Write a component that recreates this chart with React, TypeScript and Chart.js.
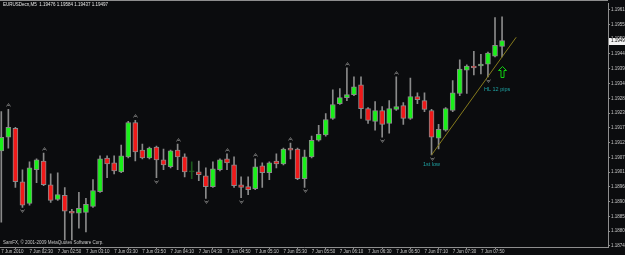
import React, { useEffect, useRef } from "react";
import { Chart, registerables } from "chart.js";
Chart.register(...registerables);

// ---- data (EURUSDecn, M5, 7 Jun 2010 02:10 .. 08:05) ----
const opens = [
  1.19093, 1.19143, 1.19176, 1.1898, 1.18901, 1.19024, 1.19056, 1.18969, 1.18915, 1.1893,
  1.18872, 1.18865, 1.18868, 1.1889, 1.18944, 1.19067, 1.19049, 1.19016, 1.19071, 1.19197,
  1.19096, 1.19067, 1.19107, 1.1906, 1.19035, 1.19096, 1.19071, 1.19016, 1.19016, 1.19002,
  1.18962, 1.19024, 1.19064, 1.19042, 1.18969, 1.18962, 1.18955, 1.19038, 1.19013, 1.19056,
  1.19045, 1.19103, 1.191, 1.18991, 1.19071, 1.19132, 1.19151, 1.19212, 1.19266, 1.19288,
  1.19299, 1.19335, 1.19248, 1.19201, 1.19241, 1.19194, 1.19245, 1.19259, 1.19212, 1.19292,
  1.19277, 1.19241, 1.1914, 1.19169, 1.19241, 1.19303, 1.19389, 1.19404, 1.19404, 1.19411,
  1.1944, 1.19476,
];
const highs = [
  1.19237, 1.19245, 1.19179, 1.19024, 1.19053, 1.19064, 1.19085, 1.19009, 1.19013, 1.18959,
  1.18879, 1.18941, 1.18919, 1.18988, 1.19075, 1.19075, 1.19075, 1.19114, 1.19201, 1.19205,
  1.19118, 1.19107, 1.19111, 1.191, 1.19096, 1.19118, 1.19082, 1.19053, 1.19056, 1.19031,
  1.19053, 1.19064, 1.19082, 1.19071, 1.18998, 1.18998, 1.19064, 1.19049, 1.19053, 1.19082,
  1.19103, 1.19122, 1.19103, 1.19096, 1.19147, 1.19187, 1.1923, 1.19317, 1.19321, 1.19397,
  1.19364, 1.19364, 1.19252, 1.19274, 1.19255, 1.19277, 1.19364, 1.1927, 1.1936, 1.19306,
  1.19306, 1.19245, 1.1919, 1.19252, 1.1935, 1.19426, 1.19408, 1.19458, 1.19447, 1.19455,
  1.19581, 1.19584,
];
const lows = [
  1.18832, 1.19103, 1.18959, 1.18886, 1.18894, 1.18977, 1.18966, 1.18904, 1.18912, 1.18767,
  1.18767, 1.1881, 1.18796, 1.18886, 1.18941, 1.18995, 1.19009, 1.19013, 1.19067, 1.19056,
  1.19064, 1.19064, 1.18995, 1.19024, 1.19031, 1.19024, 1.18998, 1.18991, 1.18984, 1.18919,
  1.18959, 1.1902, 1.19024, 1.18959, 1.18922, 1.18933, 1.18951, 1.18959, 1.18988, 1.19031,
  1.19042, 1.19064, 1.18988, 1.18959, 1.19067, 1.19129, 1.19147, 1.19208, 1.19263, 1.19277,
  1.19295, 1.19212, 1.19194, 1.19169, 1.19143, 1.19158, 1.19241, 1.1919, 1.19208, 1.19266,
  1.19237, 1.19078, 1.191, 1.19165, 1.19237, 1.19295, 1.19303, 1.19371, 1.19375, 1.19364,
  1.19437, 1.19437,
];
const closes = [
  1.19143, 1.19179, 1.1898, 1.18894, 1.19031, 1.1906, 1.18969, 1.18912, 1.18933, 1.18872,
  1.18865, 1.18883, 1.18897, 1.18948, 1.19064, 1.19045, 1.1902, 1.19075, 1.19197, 1.19089,
  1.19067, 1.19103, 1.1906, 1.19042, 1.19093, 1.19071, 1.19016, 1.19016, 1.19006, 1.18962,
  1.19027, 1.1906, 1.19049, 1.18966, 1.18959, 1.18951, 1.19035, 1.19013, 1.19049, 1.19045,
  1.191, 1.19096, 1.18991, 1.19071, 1.19132, 1.19154, 1.19208, 1.19263, 1.19288, 1.19299,
  1.19328, 1.19248, 1.19205, 1.19241, 1.1919, 1.19248, 1.19255, 1.19212, 1.19292, 1.19281,
  1.19245, 1.19143, 1.19172, 1.19248, 1.19306, 1.19393, 1.19404, 1.19397, 1.19411, 1.19451,
  1.1948, 1.19497,
];

// fractal markers (bar indices)
const upFractals = [1, 6, 19, 25, 32, 36, 41, 49, 56];
const downFractals = [3, 22, 29, 34, 43, 54, 61, 69];

// trend line through the "1st low" and the higher low
const trendX = [61, 73];
const trendY = [1.19078, 1.19509];

// x-axis tick labels (every 4 bars = 20 minutes)
const xTickBars = [0, 4, 8, 12, 16, 20, 24, 28, 32, 36, 40, 44, 48, 52, 56, 60, 64, 68];
const xTickLabels = [
  "7 Jun 2010", "7 Jun 02:30", "7 Jun 02:50", "7 Jun 03:10", "7 Jun 03:30", "7 Jun 03:50",
  "7 Jun 04:10", "7 Jun 04:30", "7 Jun 04:50", "7 Jun 05:10", "7 Jun 05:30", "7 Jun 05:50",
  "7 Jun 06:10", "7 Jun 06:30", "7 Jun 06:50", "7 Jun 07:10", "7 Jun 07:30", "7 Jun 07:50",
];

// y-axis ticks
const yTickValues = [
  1.1961, 1.19556, 1.19502, 1.19448, 1.19394, 1.1934, 1.19285, 1.19231, 1.19177, 1.19123,
  1.19069, 1.19015, 1.18961, 1.18907, 1.18853, 1.18799, 1.18745,
];
const yTickLabels = [
  "1.19610", "1.19555", "1.19500", "1.19445", "1.19390", "1.19340", "1.19285", "1.19230",
  "1.19175", "1.19125", "1.19070", "1.19015", "1.18960", "1.18905", "1.18850", "1.18800",
  "1.18745",
];

const titleText = "EURUSDecn,M5  1.19476 1.19584 1.19437 1.19497";
const copyrightText = "SamFX, \u00A9 2001-2009 MetaQuotes Software Corp.";
const firstLowText = "1st low";
const hlText = "HL 12 pips";
const currentPriceLabel = "1.19497";

// ---- styling ----
const BG = "#0b0c0e";
const AXIS = "#8e8e8e";
const TXT = "#c8c8c8";
const WICK = "#8a8a8a";
const UP = "#19f019";
const DOWN = "#f01919";
const DOJI = "#1d5a1d";
const TREND = "#857a1c";
const NOTE = "#1fa3a3";
const FRACTAL = "#6c6c6c";
const FONT = "'Liberation Sans', Arial, sans-serif";

const XMIN = -0.184;
const XMAX = 86.02;
const YMIN = 1.18741;
const YMAX = 1.19632;

export default function App() {
  const ref = useRef<HTMLCanvasElement>(null);

  useEffect(() => {
    document.body.style.margin = "0";
    document.body.style.background = BG;
    const canvas = ref.current!;
    const idx = opens.map((_, i) => i);
    const isDoji = (i: number) => opens[i] === closes[i];

    const overlay = {
      id: "overlay",
      beforeDraw(chart: any) {
        const c = chart.ctx;
        c.save();
        c.fillStyle = BG;
        c.fillRect(0, 0, chart.width, chart.height);
        c.restore();
      },
      afterDatasetsDraw(chart: any) {
        const c = chart.ctx;
        const xs = chart.scales.x;
        const ys = chart.scales.y;
        c.save();
        // fractals
        c.strokeStyle = FRACTAL;
        c.lineWidth = 1;
        upFractals.forEach((i) => {
          const x = Math.round(xs.getPixelForValue(i)) + 0.5;
          const y = Math.round(ys.getPixelForValue(highs[i])) - 4;
          c.beginPath();
          c.moveTo(x - 2, y + 1.5);
          c.lineTo(x, y - 1.5);
          c.lineTo(x + 2, y + 1.5);
          c.moveTo(x - 1, y + 0.5);
          c.lineTo(x + 1, y + 0.5);
          c.stroke();
        });
        downFractals.forEach((i) => {
          const x = Math.round(xs.getPixelForValue(i)) + 0.5;
          const y = Math.round(ys.getPixelForValue(lows[i])) + 4;
          c.beginPath();
          c.moveTo(x - 2, y - 1.5);
          c.lineTo(x, y + 1.5);
          c.lineTo(x + 2, y - 1.5);
          c.moveTo(x - 1, y - 0.5);
          c.lineTo(x + 1, y - 0.5);
          c.stroke();
        });
        // notes
        c.fillStyle = NOTE;
        c.font = `5.5px ${FONT}`;
        c.textBaseline = "middle";
        c.textAlign = "center";
        c.fillText(firstLowText, xs.getPixelForValue(61), ys.getPixelForValue(lows[61]) + 10);
        c.textAlign = "left";
        c.fillText(hlText, xs.getPixelForValue(69) - 4, ys.getPixelForValue(lows[69]) + 13);
        // green outlined up arrow
        const ax = Math.round(xs.getPixelForValue(71)) + 0.5;
        const top = Math.round(ys.getPixelForValue(1.19404)) + 0.5;
        const bot = Math.round(ys.getPixelForValue(1.19364)) + 0.5;
        c.strokeStyle = "#10d010";
        c.beginPath();
        c.moveTo(ax, top);
        c.lineTo(ax + 4, top + 4);
        c.lineTo(ax + 1.5, top + 4);
        c.lineTo(ax + 1.5, bot);
        c.lineTo(ax - 1.5, bot);
        c.lineTo(ax - 1.5, top + 4);
        c.lineTo(ax - 4, top + 4);
        c.closePath();
        c.stroke();
        c.restore();
      },
      afterDraw(chart: any) {
        const c = chart.ctx;
        const a = chart.chartArea;
        const ys = chart.scales.y;
        c.save();
        c.strokeStyle = AXIS;
        c.lineWidth = 1;
        c.beginPath();
        c.moveTo(0, 0.5);
        c.lineTo(a.right, 0.5);
        c.stroke();
        c.font = `4.5px ${FONT}`;
        c.textBaseline = "middle";
        c.textAlign = "left";
        c.fillStyle = "#e6e6e6";
        c.fillText(titleText, 3, 5);
        c.fillStyle = TXT;
        c.fillText(copyrightText, 3, a.bottom - 4);
        // current price label
        const py = ys.getPixelForValue(closes[closes.length - 1]);
        c.fillStyle = "#f2f2f2";
        c.fillRect(a.right + 1, Math.round(py) - 3, chart.width - a.right - 1, 7);
        c.fillStyle = "#000";
        c.fillText(currentPriceLabel, a.right + 3, py + 0.5);
        c.restore();
      },
    };

    const chart = new Chart(canvas, {
      type: "bar",
      data: {
        datasets: [
          {
            type: "line",
            data: trendX.map((x, k) => ({ x, y: trendY[k] })),
            borderColor: TREND,
            borderWidth: 1,
            pointRadius: 0,
            order: 0,
          } as any,
          {
            type: "bar",
            data: idx.map((i) => ({ x: i, y: [opens[i], closes[i]] })),
            backgroundColor: idx.map((i) => (isDoji(i) ? DOJI : closes[i] > opens[i] ? UP : DOWN)),
            borderColor: idx.map((i) => (isDoji(i) ? DOJI : WICK)),
            borderWidth: 1,
            borderSkipped: false,
            barThickness: 5,
            minBarLength: 1,
            grouped: false,
            order: 1,
          } as any,
          {
            type: "bar",
            data: idx.map((i) => ({ x: i, y: [lows[i], highs[i]] })),
            backgroundColor: idx.map((i) => (isDoji(i) ? DOJI : WICK)),
            borderWidth: 0,
            barThickness: 1,
            grouped: false,
            order: 2,
          } as any,
        ],
      },
      options: {
        animation: false,
        responsive: false,
        maintainAspectRatio: false,
        devicePixelRatio: 1,
        layout: { padding: { top: 1, left: 0, right: 0, bottom: 0 } },
        plugins: {
          legend: { display: false },
          tooltip: { enabled: false },
          title: { display: false },
        },
        scales: {
          x: {
            type: "linear",
            min: XMIN,
            max: XMAX,
            offset: false,
            grid: { display: true, drawOnChartArea: false, drawTicks: true, tickLength: 2, color: AXIS },
            border: { display: true, color: AXIS },
            ticks: {
              align: "start",
              maxRotation: 0,
              minRotation: 0,
              autoSkip: false,
              padding: 0,
              color: TXT,
              font: { family: FONT, size: 4.5 },
              callback: (_v: any, i: number) => xTickLabels[i],
            },
            afterBuildTicks: (s: any) => {
              s.ticks = xTickBars.map((v) => ({ value: v }));
            },
            afterFit: (s: any) => {
              s.height = 8;
            },
          } as any,
          y: {
            type: "linear",
            position: "right",
            min: YMIN,
            max: YMAX,
            grid: { display: true, drawOnChartArea: false, drawTicks: true, tickLength: 2, color: AXIS },
            border: { display: true, color: AXIS },
            ticks: {
              autoSkip: false,
              padding: 1,
              color: TXT,
              font: { family: FONT, size: 4.5 },
              callback: (_v: any, i: number) => yTickLabels[i],
            },
            afterBuildTicks: (s: any) => {
              s.ticks = yTickValues.map((v) => ({ value: v }));
            },
            afterFit: (s: any) => {
              s.width = 17;
            },
          } as any,
        },
      },
      plugins: [overlay],
    } as any);
    return () => chart.destroy();
  }, []);

  return <canvas ref={ref} width={625} height={255} style={{ display: "block" }} />;
}
